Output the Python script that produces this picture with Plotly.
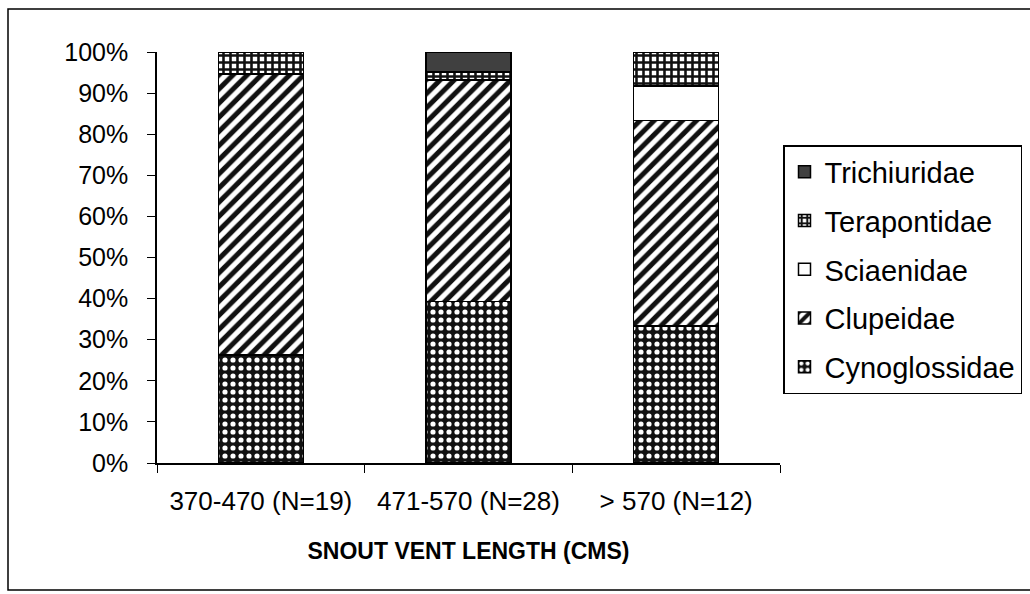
import plotly.graph_objects as go

categories = ["370-470 (N=19)", "471-570 (N=28)", "> 570 (N=12)"]
cynoglossidae = [26.3, 39.3, 33.3]
clupeidae = [68.4, 53.9, 50.0]
sciaenidae = [0.0, 0.0, 8.4]
terapontidae = [5.3, 1.9, 8.3]
trichiuridae = [0.0, 4.9, 0.0]
y_ticks = [0, 10, 20, 30, 40, 50, 60, 70, 80, 90, 100]
y_tick_labels = ["0%", "10%", "20%", "30%", "40%", "50%", "60%", "70%", "80%", "90%", "100%"]

FONT = "Liberation Sans, Arial, sans-serif"

series = [
    ("Cynoglossidae", cynoglossidae, 5, dict(color="#111111", pattern=dict(shape=".", fgcolor="white", bgcolor="#111111", size=8, solidity=0.33, fillmode="replace"))),
    ("Clupeidae", clupeidae, 4, dict(color="white", pattern=dict(shape="/", fgcolor="#111111", bgcolor="white", size=10, solidity=0.5, fillmode="replace"))),
    ("Sciaenidae", sciaenidae, 3, dict(color="white")),
    ("Terapontidae", terapontidae, 2, dict(color="white", pattern=dict(shape="+", fgcolor="#111111", bgcolor="white", size=7, solidity=0.6, fillmode="replace"))),
    ("Trichiuridae", trichiuridae, 1, dict(color="#404040")),
]

fig = go.Figure()
for name, vals, rank, mk in series:
    mk = dict(mk)
    mk["line"] = dict(color="black", width=1.5)
    fig.add_trace(go.Bar(x=categories, y=vals, name=name, marker=mk, width=0.41,
                         legendgroup=name, legendrank=rank))

fig.update_layout(
    barmode="stack",
    width=1030, height=594,
    margin=dict(l=157, r=250, t=52, b=131, autoexpand=False),
    paper_bgcolor="white", plot_bgcolor="white",
    font=dict(family=FONT, color="black", size=24),
    showlegend=True,
    legend=dict(
        xref="container", yref="container",
        x=783 / 1030, xanchor="left", y=1 - 145 / 594, yanchor="top",
        traceorder="grouped", tracegroupgap=8,
        bordercolor="black", borderwidth=1.5, bgcolor="white",
        font=dict(family=FONT, size=29, color="black"),
    ),
    xaxis=dict(
        showline=True, linecolor="black", linewidth=1.5,
        ticks="outside", tickson="boundaries", ticklen=8, tickcolor="black",
        tickfont=dict(size=26), ticklabelstandoff=14,
        title=dict(text="<b>SNOUT VENT LENGTH (CMS)</b>", font=dict(size=23), standoff=28),
    ),
    yaxis=dict(
        range=[0, 100], tickvals=y_ticks, ticktext=y_tick_labels,
        showline=True, linecolor="black", linewidth=1.5,
        ticks="outside", ticklen=8, tickcolor="black",
        showgrid=False, zeroline=False,
        tickfont=dict(size=25), ticklabelstandoff=14,
    ),
    shapes=[dict(type="rect", xref="paper", yref="paper",
                 x0=(8 - 157) / 623, x1=(1040 - 157) / 623,
                 y0=(463 - 590) / 411, y1=(463 - 9) / 411,
                 line=dict(color="black", width=1.5), layer="below")],
)

fig.write_html("out.html")
